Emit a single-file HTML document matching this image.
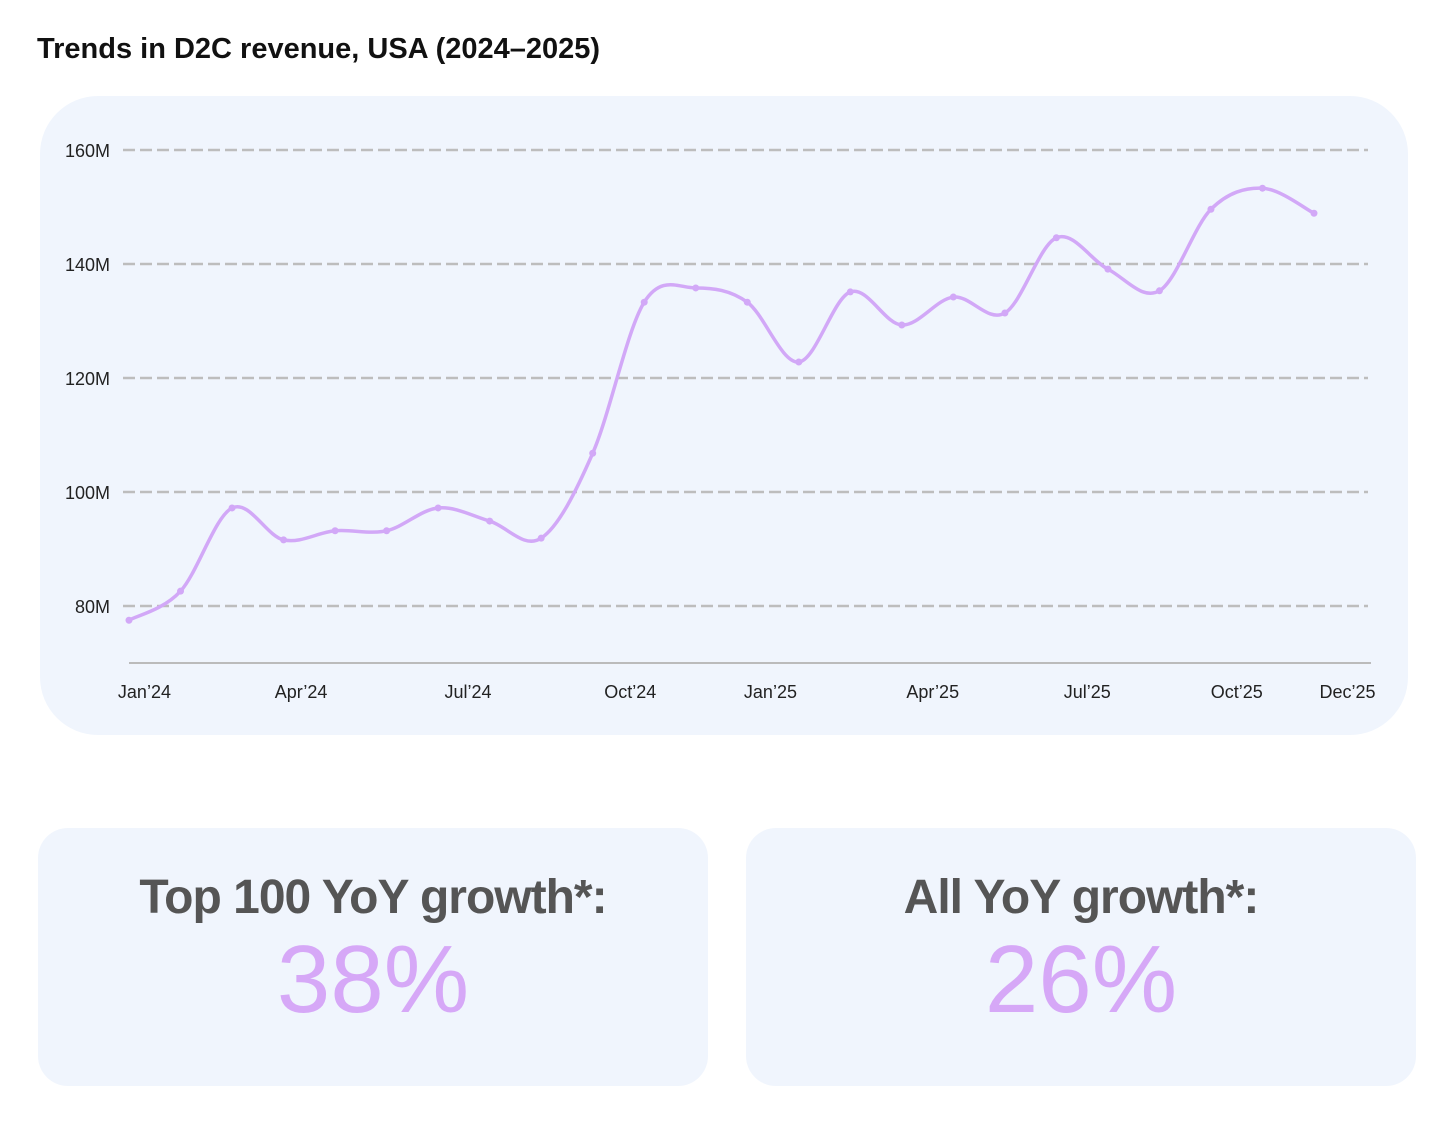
<!DOCTYPE html>
<html><head><meta charset="utf-8"><style>
html,body{margin:0;padding:0;background:#fff;width:1442px;height:1124px;overflow:hidden;font-family:"Liberation Sans",sans-serif}
.title{position:absolute;left:37px;top:33px;font-size:29px;font-weight:bold;color:#111;letter-spacing:0px}
.card{position:absolute;left:40px;top:96px;width:1368px;height:639px;background:#f0f5fd;border-radius:58px}
.stat{position:absolute;top:828px;height:258px;width:670px;background:#f0f5fd;border-radius:30px;text-align:center}
.stat .lbl{position:absolute;left:0;right:0;top:42px;font-size:48px;font-weight:bold;color:#555;letter-spacing:-1px}
.stat .val{position:absolute;left:0;right:0;top:104px;font-size:96px;color:#d6a8f7;line-height:1}
svg{position:absolute;left:0;top:0}
</style></head><body>
<div class="title">Trends in D2C revenue, USA (2024–2025)</div>
<div class="card"></div>
<svg id="chart" width="1442" height="760"></svg>
<div class="stat" style="left:38px">
 <div class="lbl">Top 100 YoY growth*:</div>
 <div class="val">38%</div>
</div>
<div class="stat" style="left:746px">
 <div class="lbl">All YoY growth*:</div>
 <div class="val">26%</div>
</div>
<script>
const values=[77.5,82.6,97.2,91.6,93.2,93.2,97.2,94.9,91.9,106.8,133.3,135.8,133.3,122.8,135.1,129.3,134.2,131.4,144.6,139.1,135.3,149.6,153.3,148.9];
const yTicks=[80,100,120,140,160];
const yTickLabels=["80M","100M","120M","140M","160M"];
const xTickLabels=["Jan’24","Apr’24","Jul’24","Oct’24","Jan’25","Apr’25","Jul’25","Oct’25","Dec’25"];
const xTickIdx=[0.3,3.34,6.58,9.73,12.45,15.6,18.6,21.5,23.65];
const NS="http://www.w3.org/2000/svg";
const svg=document.getElementById('chart');
const x=i=>129+i*(1314-129)/(values.length-1);
const y=v=>606-(v-80)*5.7;
function mk(t,a){const e=document.createElementNS(NS,t);for(const k in a)e.setAttribute(k,a[k]);svg.appendChild(e);return e;}
yTicks.forEach((t,i)=>{
 const g=mk('line',{x1:123,x2:1368,y1:y(t),y2:y(t),stroke:'#bdbdbd','stroke-width':2.5,'stroke-dasharray':'12 5'});
 
 
 const l=mk('text',{x:110,y:y(t)+7,'text-anchor':'end','font-size':18,fill:'#222','font-family':'Liberation Sans, sans-serif'});
 l.textContent=yTickLabels[i];
 
 
});
const ax=mk('line',{x1:129,x2:1371,y1:663,y2:663,stroke:'#bbb','stroke-width':2});


xTickLabels.forEach((t,i)=>{
 const l=mk('text',{x:x(xTickIdx[i]),y:698,'text-anchor':'middle','font-size':18,fill:'#222','font-family':'Liberation Sans, sans-serif'});
 l.textContent=t;
 
 
});
const pts=values.map((v,i)=>[x(i),y(v)]);
let d=`M${pts[0][0]},${pts[0][1]}`;
for(let i=0;i<pts.length-1;i++){
 const p0=pts[Math.max(0,i-1)],p1=pts[i],p2=pts[i+1],p3=pts[Math.min(pts.length-1,i+2)];
 const c1=[p1[0]+(p2[0]-p0[0])/6,p1[1]+(p2[1]-p0[1])/6];
 const c2=[p2[0]-(p3[0]-p1[0])/6,p2[1]-(p3[1]-p1[1])/6];
 d+=` C${c1[0]},${c1[1]} ${c2[0]},${c2[1]} ${p2[0]},${p2[1]}`;
}
const line=mk('path',{d:d,fill:'none',stroke:'#d2a8f7','stroke-width':3.5,'stroke-linecap':'round'});


pts.forEach(p=>{
 const c=mk('circle',{cx:p[0],cy:p[1],r:3.5,fill:'#d2a8f7'});
 
 
});
</script>
</body></html>
